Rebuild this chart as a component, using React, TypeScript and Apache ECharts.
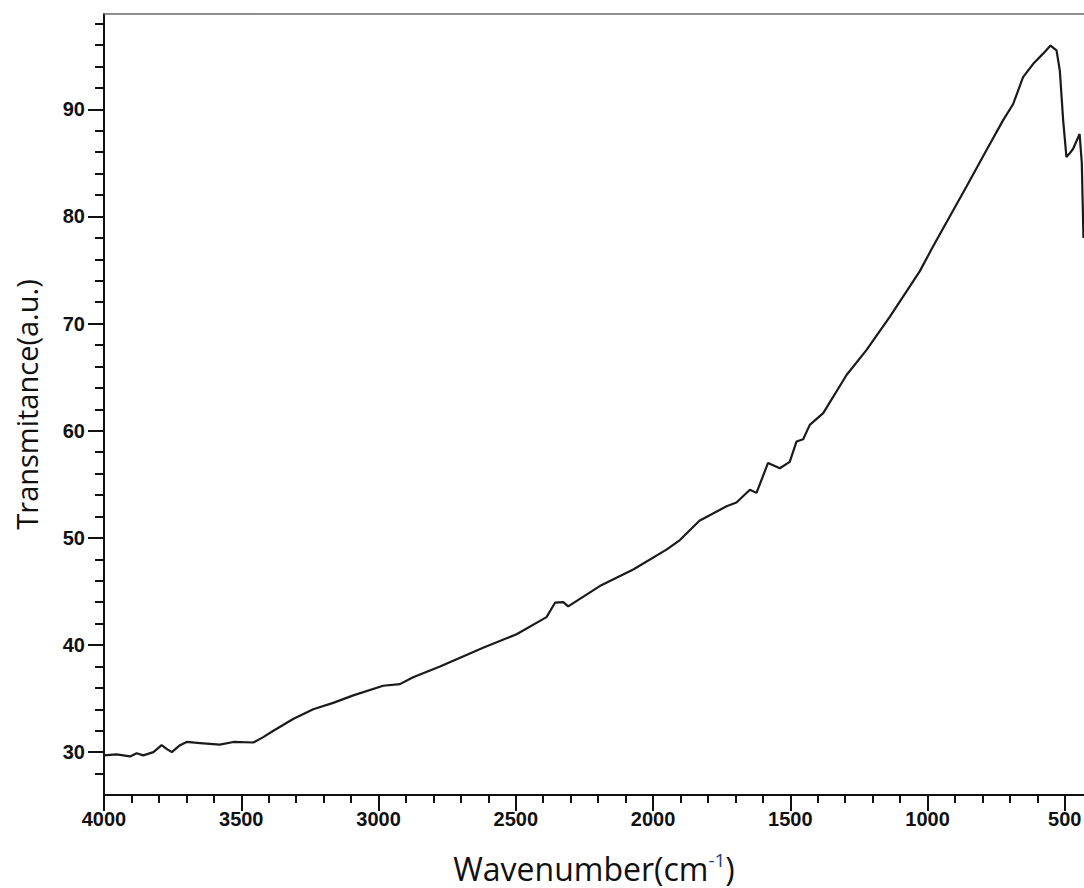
import React, { useEffect, useRef } from "react";
import * as echarts from "echarts";

// Wavenumber (cm^-1) and transmittance values
const wavenumbers = [
  4000, 3954, 3905, 3881, 3857, 3820, 3790, 3772, 3753, 3723, 3699, 3650, 3578,
  3529, 3456, 3420, 3383, 3311, 3238, 3165, 3092, 2983, 2922, 2874, 2776, 2619,
  2497, 2388, 2357, 2327, 2309, 2194, 2072, 1951, 1902, 1831, 1732, 1696, 1647,
  1623, 1581, 1538, 1502, 1477, 1453, 1429, 1380, 1295, 1222, 1137, 1028, 980,
  858, 785, 725, 688, 652, 615, 579, 552, 530, 518, 506, 494, 482, 470, 446, 438,
  432,
];
const transmittance = [
  29.7, 29.8, 29.6, 29.9, 29.7, 30.0, 30.65, 30.3, 30.0, 30.65, 30.95, 30.85,
  30.7, 30.95, 30.9, 31.4, 32.0, 33.1, 34.0, 34.6, 35.3, 36.2, 36.35, 37.0, 38.0,
  39.75, 41.0, 42.6, 43.95, 44.0, 43.6, 45.5, 47.05, 48.9, 49.8, 51.6, 52.95,
  53.3, 54.5, 54.2, 57.0, 56.5, 57.1, 59.0, 59.2, 60.55, 61.65, 65.2, 67.55,
  70.65, 74.9, 77.2, 82.8, 86.2, 88.97, 90.5, 93.0, 94.25, 95.2, 95.95, 95.5,
  93.6, 89.0, 85.55, 85.9, 86.3, 87.7, 85.0, 78.0,
];

const xMajorTicks = [4000, 3500, 3000, 2500, 2000, 1500, 1000, 500];
const xMinorTicks = [
  3900, 3800, 3700, 3600, 3400, 3300, 3200, 3100, 2900, 2800, 2700, 2600, 2400,
  2300, 2200, 2100, 1900, 1800, 1700, 1600, 1400, 1300, 1200, 1100, 900, 800,
  700, 600,
];
const yMajorTicks = [30, 40, 50, 60, 70, 80, 90];
const yMinorTicks = [
  28, 32, 34, 36, 38, 42, 44, 46, 48, 52, 54, 56, 58, 62, 64, 66, 68, 72, 74, 76,
  78, 82, 84, 86, 88, 92, 94, 96, 98,
];

const X_MIN = 430;
const X_MAX = 4000;
const Y_MIN = 26;
const Y_MAX = 98.9;

export default function App() {
  const ref = useRef<HTMLDivElement>(null);

  useEffect(() => {
    if (!ref.current) return;
    const chart = echarts.init(ref.current, null, { renderer: "svg" });
    const labelFont = {
      fontFamily: "Liberation Sans, Arial, sans-serif",
      fontWeight: "bold" as const,
      fontSize: 20,
      color: "#111",
    };
    const baseX = {
      type: "value" as const,
      min: X_MIN,
      max: X_MAX,
      inverse: true,
      splitLine: { show: false },
    };
    const baseY = {
      type: "value" as const,
      min: Y_MIN,
      max: Y_MAX,
      splitLine: { show: false },
    };
    chart.setOption({
      animation: false,
      backgroundColor: "#ffffff",
      grid: {
        left: 104,
        right: 0,
        top: 14,
        bottom: 93,
        containLabel: false,
        outerBoundsMode: "none",
      },
      xAxis: [
        {
          ...baseX,
          position: "bottom",
          axisLine: { show: true, lineStyle: { color: "#111", width: 2 } },
          axisTick: {
            show: true,
            length: 16,
            lineStyle: { color: "#111", width: 2 },
            customValues: xMajorTicks,
          },
          axisLabel: {
            ...labelFont,
            margin: 14,
            customValues: xMajorTicks,
            formatter: (v: number) => String(v),
          },
          name: "{a|Wavenumber(cm}{s|-1}{a|)}",
          nameLocation: "middle",
          nameGap: 55,
          nameTextStyle: {
            rich: {
              a: {
                fontFamily: "Open Sans, Noto Sans, sans-serif",
                fontSize: 32,
                lineHeight: 34,
                color: "#111",
                verticalAlign: "bottom",
              },
              s: {
                fontFamily: "Open Sans, Noto Sans, sans-serif",
                fontSize: 19,
                lineHeight: 34,
                color: "#1f3a7a",
                verticalAlign: "top",
              },
            },
          },
        },
        {
          ...baseX,
          position: "bottom",
          axisLine: { show: false },
          axisTick: {
            show: true,
            length: 8,
            lineStyle: { color: "#111", width: 2 },
            customValues: xMinorTicks,
          },
          axisLabel: { show: false },
        },
        {
          ...baseX,
          position: "top",
          axisLine: { show: true, lineStyle: { color: "#6a6a6a", width: 1.5 } },
          axisTick: { show: false },
          axisLabel: { show: false },
        },
      ],
      yAxis: [
        {
          ...baseY,
          position: "left",
          axisLine: { show: true, lineStyle: { color: "#111", width: 2 } },
          axisTick: {
            show: true,
            length: 16,
            lineStyle: { color: "#111", width: 2 },
            customValues: yMajorTicks,
          },
          axisLabel: {
            ...labelFont,
            margin: 19,
            customValues: yMajorTicks,
            formatter: (v: number) => String(v),
          },
          name: "Transmitance(a.u.)",
          nameLocation: "middle",
          nameGap: 63,
          nameTextStyle: {
            fontFamily: "Open Sans, Noto Sans, sans-serif",
            fontSize: 29,
            color: "#111",
          },
        },
        {
          ...baseY,
          position: "left",
          axisLine: { show: false },
          axisTick: {
            show: true,
            length: 9,
            lineStyle: { color: "#111", width: 2 },
            customValues: yMinorTicks,
          },
          axisLabel: { show: false },
        },
      ],
      series: [
        {
          type: "line",
          xAxisIndex: 0,
          yAxisIndex: 0,
          data: wavenumbers.map((w, i) => [w, transmittance[i]]),
          showSymbol: false,
          symbol: "none",
          smooth: false,
          lineStyle: { color: "#1a1a1a", width: 2.2 },
          clip: true,
        },
      ],
    });
    return () => chart.dispose();
  }, []);

  return (
    <div
      ref={ref}
      style={{ position: "fixed", left: 0, top: 0, width: 1084, height: 888 }}
    />
  );
}
